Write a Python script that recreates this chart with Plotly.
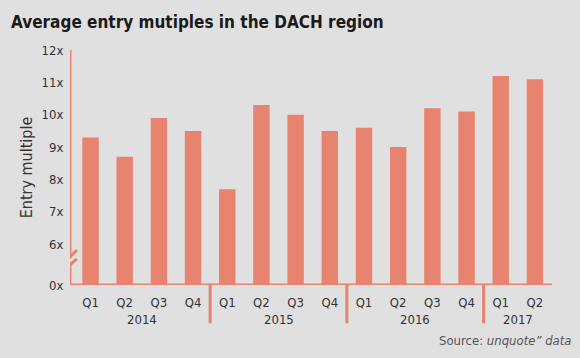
import plotly.graph_objects as go

quarters = ["Q1", "Q2", "Q3", "Q4", "Q1", "Q2", "Q3", "Q4", "Q1", "Q2", "Q3", "Q4", "Q1", "Q2"]
years = ["2014", "2015", "2016", "2017"]
year_sizes = [4, 4, 4, 2]
values = [9.3, 8.7, 9.9, 9.5, 7.7, 10.3, 10.0, 9.5, 9.6, 9.0, 10.2, 10.1, 11.2, 11.1]
y_tickvals = [4.74, 6, 7, 8, 9, 10, 11, 12]
y_ticktext = ["0x", "6x", "7x", "8x", "9x", "10x", "11x", "12x"]

BAR = "#E8836F"
BG = "#E0E0E0"
FONT = "DejaVu Sans Condensed, Roboto, sans-serif"
Y0, Y1 = 4.74, 12
X0, X1 = -0.6, 13.5

x = list(range(len(values)))
fig = go.Figure(go.Bar(x=x, y=values, marker=dict(color=BAR, line=dict(width=0)), width=0.48,
                       hoverinfo="skip"))

shapes = []
shapes.append(dict(type="line", xref="x", yref="y", x0=X0, x1=X1, y0=Y0, y1=Y0,
                   line=dict(color=BAR, width=3)))
shapes.append(dict(type="line", xref="x", yref="y", x0=X0, x1=X0, y0=Y1, y1=5.57,
                   line=dict(color=BAR, width=3)))
shapes.append(dict(type="line", xref="x", yref="y", x0=X0, x1=X0, y0=5.34, y1=Y0 - 0.04,
                   line=dict(color=BAR, width=3)))
shapes.append(dict(type="line", xref="x", yref="y", x0=-0.74, x1=-0.40, y0=5.46, y1=5.82,
                   line=dict(color=BAR, width=3)))
shapes.append(dict(type="line", xref="x", yref="y", x0=-0.77, x1=-0.40, y0=5.21, y1=5.55,
                   line=dict(color=BAR, width=3)))
pos = 0
for s in year_sizes[:-1]:
    pos += s
    shapes.append(dict(type="line", xref="x", yref="paper", x0=pos - 0.5, x1=pos - 0.5,
                       y0=0, y1=-0.163, line=dict(color=BAR, width=3)))

def f(size, color="#333333"):
    return dict(family=FONT, size=size, color=color)

annotations = []
pos = 0
for yr, s in zip(years, year_sizes):
    annotations.append(dict(x=pos + (s - 1) / 2, y=-0.148, xref="x", yref="paper", text=yr,
                            showarrow=False, font=f(13), yanchor="middle"))
    pos += s
annotations.append(dict(x=1.045, xref="paper", xanchor="right", y=-0.237, yref="paper",
                        yanchor="middle", showarrow=False,
                        text="Source: <i>unquote\u201d data</i>",
                        font=f(13, "#555555")))
annotations.append(dict(x=-0.126, xref="paper", xanchor="left", y=1.12, yref="paper",
                        yanchor="middle", showarrow=False,
                        text="<b>Average entry mutiples in the DACH region</b>",
                        font=f(17, "#1a1a1a")))

fig.update_layout(
    width=580, height=358,
    margin=dict(l=70, r=28, t=49.5, b=72.5),
    paper_bgcolor=BG, plot_bgcolor=BG,
    showlegend=False,
    shapes=shapes,
    annotations=annotations,
    xaxis=dict(range=[X0, X1], tickmode="array", tickvals=x, ticktext=quarters,
               showgrid=False, zeroline=False, showline=False,
               ticks="outside", ticklen=5, tickcolor="rgba(0,0,0,0)",
               tickfont=f(13)),
    yaxis=dict(range=[Y0, Y1], tickmode="array", tickvals=y_tickvals, ticktext=y_ticktext,
               showgrid=False, zeroline=False, showline=False,
               ticks="outside", ticklen=3, tickcolor="rgba(0,0,0,0)",
               tickfont=f(13),
               title=dict(text="Entry multiple", standoff=4, font=f(16))),
)

fig.write_html("out.html", config={"displayModeBar": False},
               post_script="document.body.style.margin='0';document.body.style.background='#E0E0E0';")
